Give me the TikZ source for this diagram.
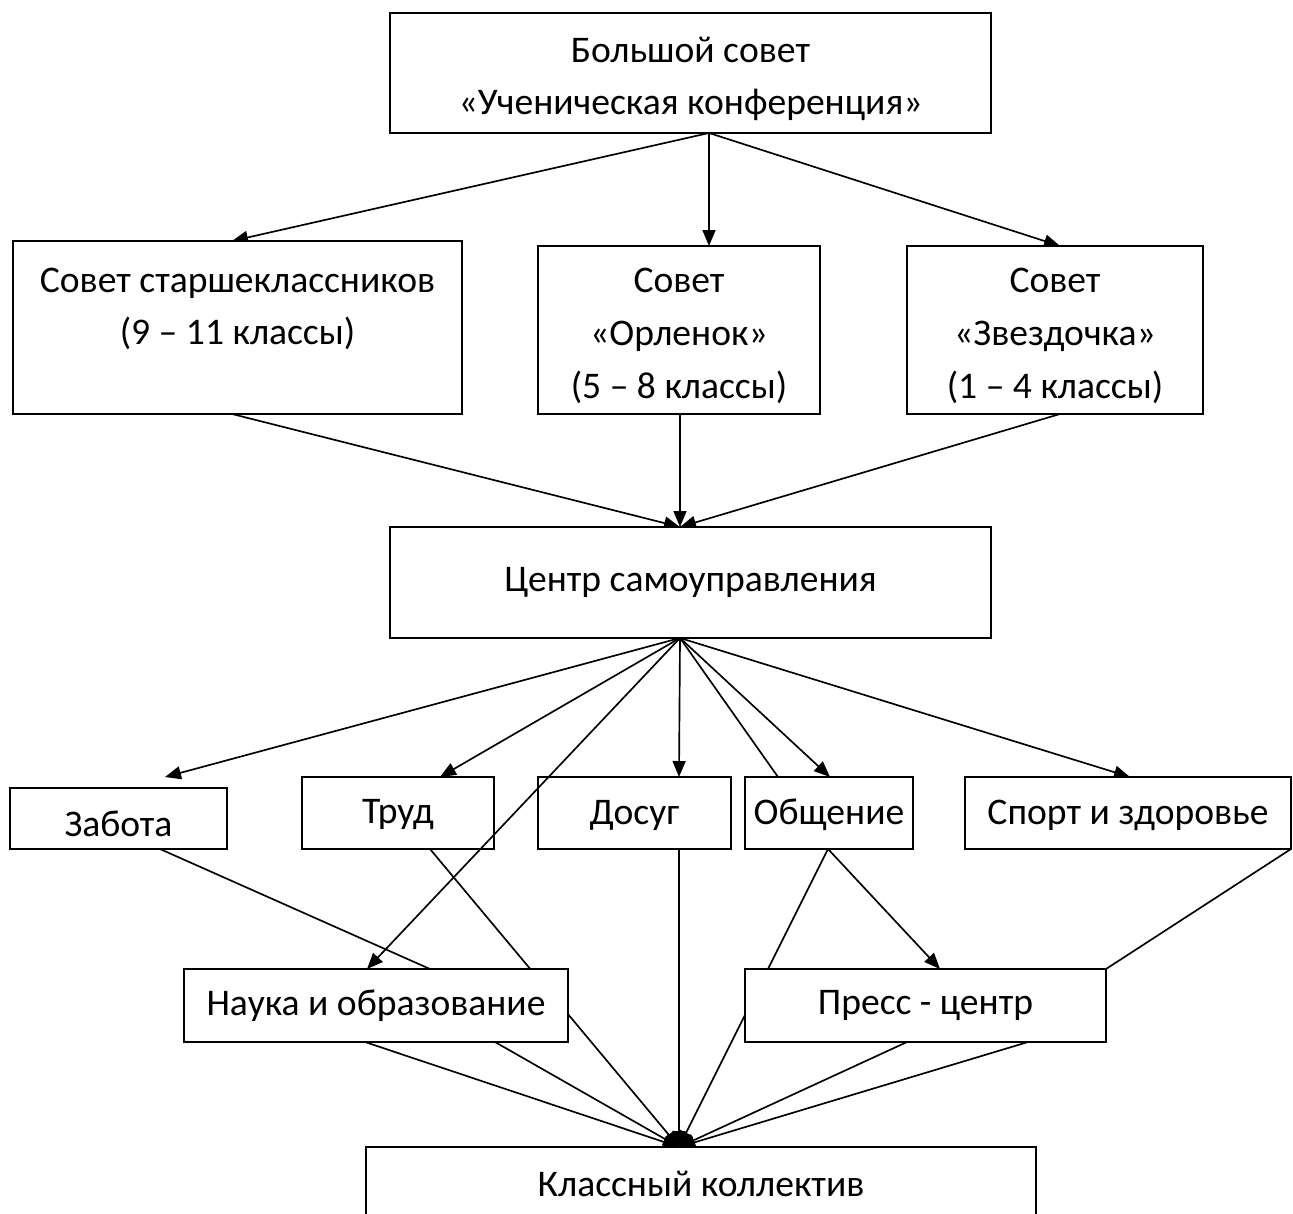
\documentclass[tikz,border=0pt]{standalone}
\usepackage{fontspec}
\setmainfont{Carlito}
\usetikzlibrary{arrows.meta,calc}
\pgfdeclarelayer{bg}
\pgfsetlayers{bg,main}
\begin{document}
\begin{tikzpicture}[x=0.02cm,y=-0.02cm,
  box/.style={draw,line width=1pt,fill=white,inner sep=0pt,outer sep=0pt},
  txt/.style={align=center,inner sep=0pt,font=\fontsize{21.4}{30}\selectfont},
  ln/.style={line width=0.95pt},
  arr/.style={line width=0.95pt,-{Triangle[length=3.2mm,width=2.6mm]}}]
\useasboundingbox (0,0) rectangle (1293,1213);
% boxes
\node[box,minimum width=12.02cm,minimum height=2.4cm] (big) at (690.5,73) {};
\node[box,minimum width=8.98cm,minimum height=3.46cm] (starsh) at (237.5,327.5) {};
\node[box,minimum width=5.64cm,minimum height=3.36cm] (orl) at (679,330) {};
\node[box,minimum width=5.92cm,minimum height=3.36cm] (zvezd) at (1055,330) {};
\node[box,minimum width=12.02cm,minimum height=2.22cm] (centr) at (690.5,582.5) {};
\node[box,minimum width=4.34cm,minimum height=1.22cm] (zabota) at (118.5,818.5) {};
\node[box,minimum width=3.84cm,minimum height=1.44cm] (trud) at (398,813) {};
\node[box,minimum width=3.86cm,minimum height=1.44cm] (dosug) at (634.5,813) {};
\node[box,minimum width=3.36cm,minimum height=1.44cm] (obsh) at (829,813) {};
\node[box,minimum width=6.52cm,minimum height=1.44cm] (sport) at (1128,813) {};
\node[box,minimum width=7.68cm,minimum height=1.46cm] (nauka) at (376,1005.5) {};
\node[box,minimum width=7.22cm,minimum height=1.46cm] (press) at (925.5,1005.5) {};
\node[box,minimum width=13.4cm,minimum height=1.66cm] (klass) at (701,1188.5) {};
% texts
\node[txt] (bigT) at (690.5,79) {Большой совет\\«Ученическая конференция»};
\node[txt] (starshT) at (237.5,309) {Совет старшеклассников\\(9 – 11 классы)};
\node[txt] (orlT) at (679,336) {Совет\\«Орленок»\\(5 – 8 классы)};
\node[txt] (zvezdT) at (1055,336) {Совет\\«Звездочка»\\(1 – 4 классы)};
\node[txt] (centrT) at (690.5,582) {Центр самоуправления};
\node[txt] (zabotaT) at (118.5,824) {Забота};
\node[txt] (trudT) at (398,815) {Труд};
\node[txt] (dosugT) at (634.5,815) {Досуг};
\node[txt] (obshT) at (829,815) {Общение};
\node[txt] (sportT) at (1128,815) {Спорт и здоровье};
\node[txt] (naukaT) at (376,1006) {Наука и образование};
\node[txt] (pressT) at (925.5,1006) {Пресс - центр};
\node[txt] (klassT) at (701,1184) {Классный коллектив};
\coordinate (conv) at ($(klass.north)+(-22,0)$);
% connectors behind boxes
\begin{pgfonlayer}{bg}
\draw[arr] ($(big.south)+(18.5,0)$) -- ($(starsh.north)+(-5.5,0)$);
\draw[arr] ($(big.south)+(18.5,0)$) -- ($(orl.north)+(30,0)$);
\draw[arr] ($(big.south)+(18.5,0)$) -- ($(zvezd.north)+(5,0)$);
\draw[arr] ($(starsh.south)+(-5.5,0)$) -- ($(centr.north)+(-10.5,0)$);
\draw[arr] ($(orl.south)+(1,0)$) -- ($(centr.north)+(-10.5,0)$);
\draw[arr] ($(zvezd.south)+(5,0)$) -- ($(centr.north)+(-10.5,0)$);
\draw[arr] ($(centr.south)+(-10.5,0)$) -- ($(zabota.north)+(46.5,-11)$);
\draw[arr] ($(centr.south)+(-10.5,0)$) -- ($(trud.north)+(42,0)$);
\draw[arr] ($(centr.south)+(-10.5,0)$) -- ($(dosug.north)+(44.5,0)$);
\draw[ln] ($(centr.south)+(-10.5,0)$) -- ($(obsh.north)+(-51,0)$);
\draw[arr] ($(centr.south)+(-10.5,0)$) -- ($(obsh.north)+(1,0)$);
\draw[arr] ($(centr.south)+(-10.5,0)$) -- ($(sport.north)+(2,0)$);
\draw[ln] ($(zabota.south)+(41.5,0)$) -- ($(nauka.north)+(54,0)$);
\draw[arr] ($(trud.south)+(32,0)$) -- (conv);
\draw[arr] ($(dosug.south)+(44.5,0)$) -- (conv);
\draw[arr] ($(obsh.south)+(-1,0)$) -- (conv);
\draw[arr] ($(obsh.south)+(-1,0)$) -- ($(press.north)+(14.5,0)$);
\draw[ln] (sport.south east) -- (press.north east);
\draw[arr] ($(nauka.south)+(-11,0)$) -- (conv);
\draw[arr] ($(nauka.south)+(119,0)$) -- (conv);
\draw[arr] ($(press.south)+(-18.5,0)$) -- (conv);
\draw[arr] ($(press.south)+(102.5,0)$) -- (conv);
\end{pgfonlayer}
% connector drawn over boxes
\draw[arr] ($(centr.south)+(-10.5,0)$) -- ($(nauka.north)+(-9,0)$);
\end{tikzpicture}
\end{document}
